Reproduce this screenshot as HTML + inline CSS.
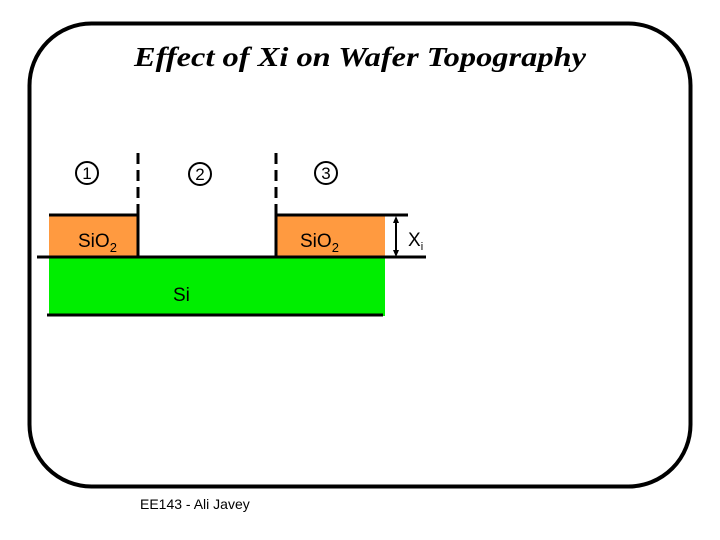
<!DOCTYPE html>
<html><head><meta charset="utf-8"><style>
html,body{margin:0;padding:0;background:#fff;width:720px;height:540px;overflow:hidden}
svg{display:block}
text{font-family:"Liberation Sans",sans-serif}
</style></head><body>
<svg width="720" height="540" viewBox="0 0 720 540">
<rect x="29.5" y="23.5" width="661" height="463" rx="62" ry="62" fill="none" stroke="#000" stroke-width="4"/>
<text x="360" y="66" text-anchor="middle" font-family="Liberation Serif,serif" font-style="italic" font-weight="bold" font-size="27" textLength="452" lengthAdjust="spacingAndGlyphs" style="font-family:'Liberation Serif',serif">Effect of Xi on Wafer Topography</text>
<rect x="49" y="258" width="336" height="58" fill="#00ee00"/>
<rect x="49" y="216" width="89" height="41" fill="#ff9a40"/>
<rect x="276" y="216" width="109" height="41" fill="#ff9a40"/>
<g stroke="#000" stroke-width="3" fill="none">
<line x1="49" y1="215" x2="139" y2="215"/>
<line x1="276" y1="215" x2="408" y2="215"/>
<line x1="37" y1="257" x2="426" y2="257"/>
<line x1="47" y1="315" x2="383" y2="315"/>
<line x1="138" y1="215" x2="138" y2="257"/>
<line x1="276" y1="215" x2="276" y2="257"/>
<line x1="138" y1="153" x2="138" y2="215" stroke-dasharray="11,6"/>
<line x1="276" y1="153" x2="276" y2="215" stroke-dasharray="11,6"/>
</g>
<g stroke="#000" stroke-width="2" fill="none">
<circle cx="87" cy="173" r="11"/>
<circle cx="200" cy="174" r="11"/>
<circle cx="326" cy="173" r="11"/>
<line x1="396" y1="220" x2="396" y2="253"/>
</g>
<path d="M396 216 l-3 7 h6z M396 257 l-3 -7 h6z" fill="#000"/>
<g font-size="17" text-anchor="middle">
<text x="87" y="179">1</text>
<text x="200" y="180">2</text>
<text x="326" y="179">3</text>
</g>
<text x="78" y="247" font-size="19">SiO<tspan font-size="13" dy="5">2</tspan></text>
<text x="300" y="247" font-size="19">SiO<tspan font-size="13" dy="5">2</tspan></text>
<text x="173" y="301" font-size="19">Si</text>
<text x="408" y="246" font-size="19">X<tspan font-size="11" dy="4">i</tspan></text>
<text x="140" y="509" font-size="14">EE143 - Ali Javey</text>
</svg>
</body></html>
